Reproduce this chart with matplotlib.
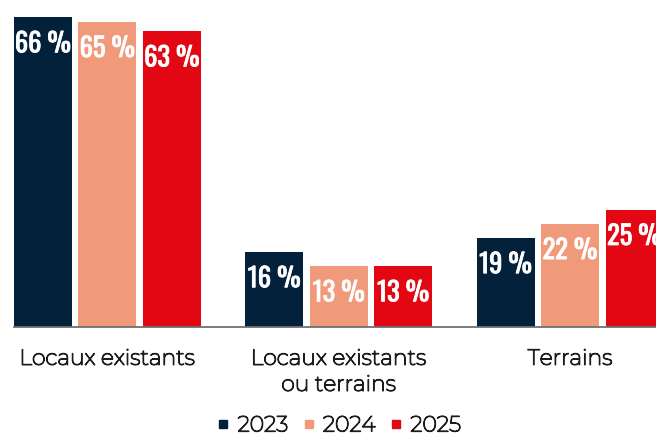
import matplotlib
matplotlib.use("Agg")
import matplotlib.pyplot as plt
import matplotlib.patheffects as pe
from matplotlib.font_manager import FontProperties, findfont, fontManager
from matplotlib.lines import Line2D
import numpy as np

categories = ["Locaux existants", "Locaux existants\nou terrains", "Terrains"]
years = ["2023", "2024", "2025"]
values_2023 = [66, 16, 19]
values_2024 = [65, 13, 22]
values_2025 = [63, 13, 25]
colors = ["#03213b", "#f1997b", "#e30613"]

WEIGHTS = {"thin": 100, "light": 300, "normal": 400, "regular": 400,
           "medium": 500, "semibold": 600, "bold": 700, "black": 900}


def resolved_weight(family, weight):
    """weight of the file matplotlib really uses for this family (None if missing)"""
    try:
        path = findfont(FontProperties(family=family, weight=weight), fallback_to_default=False)
    except ValueError:
        return None
    for f in fontManager.ttflist:
        if f.fname == path:
            w = f.weight
            return int(w) if str(w).isdigit() else WEIGHTS.get(str(w).lower(), 400)
    return None


# labels: Montserrat if there, thicken it with a stroke if only a thin cut exists
lab_w = resolved_weight("Montserrat", 500)
if lab_w is None:
    lab_family, lab_size, lab_stroke = "DejaVu Sans", 13.5, 0
else:
    lab_family = "Montserrat"
    lab_size = 15.4 if lab_w >= 400 else 15.8
    lab_stroke = 0 if lab_w >= 400 else (0.9 if lab_w <= 200 else 0.5)

num_w = resolved_weight("Oswald", 500)
if num_w is None:
    num_family, num_size, num_stroke = "Barlow Condensed", 22, 0
else:
    num_family, num_size = "Oswald", 19
    num_stroke = 0 if num_w >= 500 else 0.6

label_color = "#1c1c1c"
lab_fx = [pe.withStroke(linewidth=lab_stroke, foreground=label_color)] if lab_stroke else []
num_fx = [pe.withStroke(linewidth=num_stroke, foreground="white")] if num_stroke else []

fig = plt.figure(figsize=(6.56, 4.34), dpi=100)
ax = fig.add_axes([14 / 656, 107 / 434, 642 / 656, 327 / 434])

x = np.arange(len(categories))
width = 0.25
step = 0.2786
series = [values_2023, values_2024, values_2025]
for i, (vals, col) in enumerate(zip(series, colors)):
    bars = ax.bar(x + (i - 1) * step, vals, width, color=col, label=years[i], zorder=1)
    for b, v in zip(bars, vals):
        ax.annotate(f"{v} %", (b.get_x() + b.get_width() / 2, v),
                    xytext=(0, -25.5), textcoords="offset points",
                    ha="center", va="baseline", color="white", fontsize=num_size,
                    family=num_family, weight=500, annotation_clip=False,
                    path_effects=num_fx)

ax.set_xlim(-0.4036, 2.3715)
ax.set_ylim(0, 69.6)
for s in ["top", "right", "left"]:
    ax.spines[s].set_visible(False)
ax.spines["bottom"].set_color("#707070")
ax.spines["bottom"].set_linewidth(1.3)
ax.spines["bottom"].set_zorder(3)
ax.set_yticks([])
ax.set_xticks(x)
ax.set_xticklabels(categories, fontsize=lab_size, color=label_color, linespacing=1.3,
                   family=lab_family, weight=500, va="top")
ax.tick_params(axis="x", length=0, pad=15)
for t in ax.get_xticklabels():
    t.set_path_effects(lab_fx)

handles = [Line2D([], [], marker="s", linestyle="", markersize=5.2, color=c) for c in colors]
leg = fig.legend(handles, years, loc="center", bbox_to_anchor=(340 / 656, 9 / 434),
                 ncol=3, frameon=False, handlelength=0.4, handletextpad=0.45,
                 columnspacing=0.72, borderpad=0,
                 prop=dict(family=lab_family, size=lab_size, weight=500))
for t in leg.get_texts():
    t.set_color(label_color)
    t.set_path_effects(lab_fx)

fig.savefig("out.png", dpi=100)
